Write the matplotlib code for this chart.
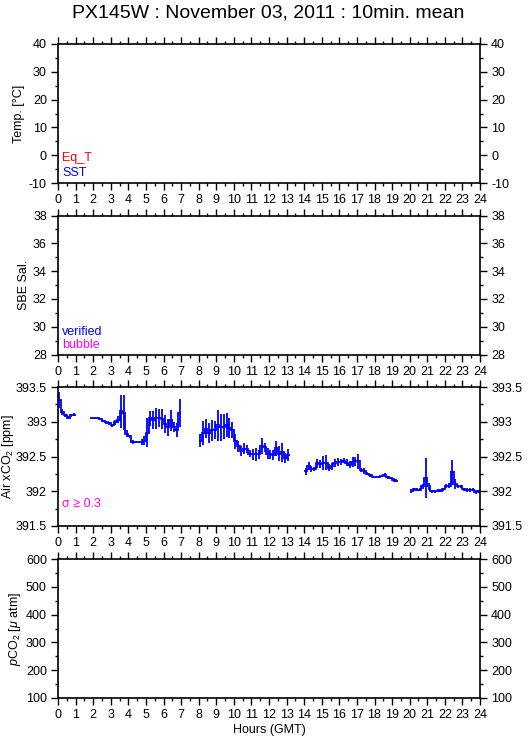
import numpy as np
import matplotlib
matplotlib.use('Agg')
import matplotlib.pyplot as plt
from matplotlib.ticker import MultipleLocator

plt.rcParams['font.family'] = ['Liberation Sans', 'DejaVu Sans']
plt.rcParams['mathtext.fontset'] = 'custom'
plt.rcParams['mathtext.rm'] = 'Liberation Sans'
plt.rcParams['mathtext.it'] = 'Liberation Sans:italic'

# start of each 10-min window (minutes after 00:00 GMT)
start_min = [0, 10, 20, 30, 40, 50,
             110, 120, 130, 140, 150, 160, 170, 180, 190, 200,
             210, 220, 230, 240, 250, 260, 270, 280, 290, 300,
             310, 320, 330, 340, 350, 360, 370, 380, 390, 400, 410,
             480, 490, 500, 510, 520, 530, 540, 550, 560, 570,
             580, 590, 600, 610, 620, 630, 640, 650, 660, 670,
             680, 690, 700, 710, 720, 730, 740, 750, 760, 770, 780,
             840, 850, 860, 870, 880, 890, 900, 910, 920, 930,
             940, 950, 960, 970, 980, 990, 1000, 1010, 1020, 1030,
             1040, 1050, 1060, 1070, 1080, 1090, 1100, 1110, 1120, 1130,
             1140, 1150,
             1200, 1210, 1220, 1230, 1240, 1250, 1260, 1270, 1280, 1290,
             1300, 1310, 1320, 1330, 1340, 1350, 1360, 1370, 1380, 1390,
             1400, 1410, 1420, 1430]

# Air xCO2 10-min means [ppm]
xco2 = [393.32, 393.14, 393.09, 393.06, 393.09, 393.10,
        393.05, 393.05, 393.05, 393.04, 393.01, 392.99, 392.98, 392.95, 392.99, 393.03,
        393.15, 393.13, 392.83, 392.79, 392.71, 392.71, 392.71, 392.71, 392.73, 392.84,
        393.05, 393.03, 393.05, 393.05, 393.04, 392.97, 392.92, 393.02, 392.92, 392.88, 393.13,
        392.73, 392.84, 392.90, 392.84, 392.88, 392.88, 392.95, 392.92, 392.93, 392.95,
        392.91, 392.88, 392.72, 392.65, 392.58, 392.61, 392.61, 392.54, 392.53, 392.53,
        392.53, 392.65, 392.63, 392.54, 392.53, 392.52, 392.62, 392.54, 392.56, 392.48, 392.52,
        392.29, 392.36, 392.32, 392.32, 392.40, 392.39, 392.41, 392.41, 392.34, 392.36,
        392.41, 392.42, 392.42, 392.44, 392.41, 392.38, 392.42, 392.43, 392.43, 392.31,
        392.29, 392.25, 392.23, 392.21, 392.21, 392.21, 392.22, 392.23, 392.20, 392.19,
        392.16, 392.15,
        392.00, 392.03, 392.02, 392.02, 392.07, 392.19, 392.07, 392.00, 392.00, 392.01,
        392.01, 392.03, 392.07, 392.08, 392.27, 392.10, 392.07, 392.07, 392.03, 392.02,
        392.02, 392.02, 391.99, 392.00]

# standard deviation of each window [ppm]
xco2_sd = [0.115, 0.05, 0.02, 0.02, 0.02, 0.02,
           0.01, 0.01, 0.01, 0.02, 0.02, 0.02, 0.02, 0.02, 0.04, 0.05,
           0.24, 0.25, 0.05, 0.02, 0.03, 0.02, 0.02, 0.04, 0.07, 0.21,
           0.11, 0.13, 0.15, 0.13, 0.14, 0.13, 0.12, 0.15, 0.07, 0.10, 0.20,
           0.09, 0.17, 0.14, 0.14, 0.15, 0.13, 0.22, 0.19, 0.18, 0.17,
           0.15, 0.11, 0.11, 0.08, 0.07, 0.08, 0.06, 0.05, 0.08, 0.09,
           0.07, 0.12, 0.07, 0.08, 0.06, 0.07, 0.11, 0.11, 0.14, 0.07, 0.09,
           0.05, 0.06, 0.04, 0.03, 0.07, 0.06, 0.10, 0.11, 0.05, 0.05,
           0.06, 0.06, 0.04, 0.04, 0.05, 0.05, 0.07, 0.06, 0.11, 0.03,
           0.04, 0.02, 0.02, 0.01, 0.01, 0.01, 0.02, 0.03, 0.02, 0.02,
           0.03, 0.02,
           0.03, 0.02, 0.02, 0.02, 0.04, 0.29, 0.05, 0.02, 0.02, 0.02,
           0.02, 0.02, 0.03, 0.04, 0.18, 0.07, 0.02, 0.02, 0.02, 0.03,
           0.03, 0.02, 0.03, 0.02]

hour_ticks = list(range(0, 25))

W, H = 529, 739
fig = plt.figure(figsize=(W / 100, H / 100), dpi=100)
fig.text(0.507, 1 - 13 / H, 'PX145W : November 03, 2011 : 10min. mean',
         ha='center', va='center', fontsize=14)

left = 58 / W
width = 422 / W
height = 139 / H
tops = [44, 215.5, 387, 559]

# label, ymin, ymax, major step, minor step, label x (px from left edge)
panels = [
    ('Temp. [°C]', -10, 40, 10, 5, 25),
    ('SBE Sal.', 28, 38, 2, 1, 30),
    ('Air xCO$_2$ [ppm]', 391.5, 393.5, 0.5, 0.25, 16),
    ('$p$CO$_2$ [$\\mu$ atm]', 100, 600, 100, 50, 23),
]

axes = []
for (lab, lo, hi, maj, mnr, lx), top in zip(panels, tops):
    ax = fig.add_axes([left, 1 - (top + 139) / H, width, height])
    ax.set_xlim(0, 24)
    ax.set_ylim(lo, hi)
    ax.set_xticks(hour_ticks)
    ax.xaxis.set_minor_locator(MultipleLocator(0.5))
    ax.yaxis.set_major_locator(MultipleLocator(maj))
    ax.yaxis.set_minor_locator(MultipleLocator(mnr))
    ax.tick_params(which='both', direction='out', top=True, right=True,
                   labelright=True, labelsize=9, width=1, color='black')
    ax.tick_params(which='major', length=5, pad=3)
    ax.tick_params(which='minor', length=2.5)
    ax.yaxis.set_major_formatter(matplotlib.ticker.FormatStrFormatter('%g'))
    for s in ax.spines.values():
        s.set_linewidth(1.2)
    ax.set_ylabel(lab, fontsize=9)
    ax.yaxis.set_label_coords((lx - 58) / 422, 0.5)
    axes.append(ax)

ax1, ax2, ax3, ax4 = axes

ax1.text(0.01, 0.18, 'Eq_T', color='red', fontsize=9, transform=ax1.transAxes, va='center')
ax1.text(0.01, 0.07, 'SST', color='blue', fontsize=9, transform=ax1.transAxes, va='center')
ax2.text(0.01, 0.165, 'verified', color='blue', fontsize=9, transform=ax2.transAxes, va='center')
ax2.text(0.01, 0.065, 'bubble', color='magenta', fontsize=9, transform=ax2.transAxes, va='center')
ax3.text(0.01, 0.16, 'σ ≥ 0.3', color='magenta', fontsize=9, transform=ax3.transAxes, va='center')

ax4.set_xlabel('Hours (GMT)', fontsize=9, labelpad=2)

# xCO2: 10-min steps, broken at gaps, with 1-sigma bars
t = np.array(start_min, dtype=float)
v = np.array(xco2)
sd = np.array(xco2_sd)
breaks = np.where(np.diff(t) > 10)[0] + 1
for seg in np.split(np.arange(len(t)), breaks):
    edges = np.append(t[seg], t[seg][-1] + 10) / 60.0
    ax3.stairs(v[seg], edges, baseline=None, color='blue', linewidth=1.3)
ax3.errorbar((t + 5) / 60.0, v, yerr=sd, fmt='none', ecolor='blue',
             elinewidth=1.3, capsize=0)

fig.savefig('out.png', dpi=100)
